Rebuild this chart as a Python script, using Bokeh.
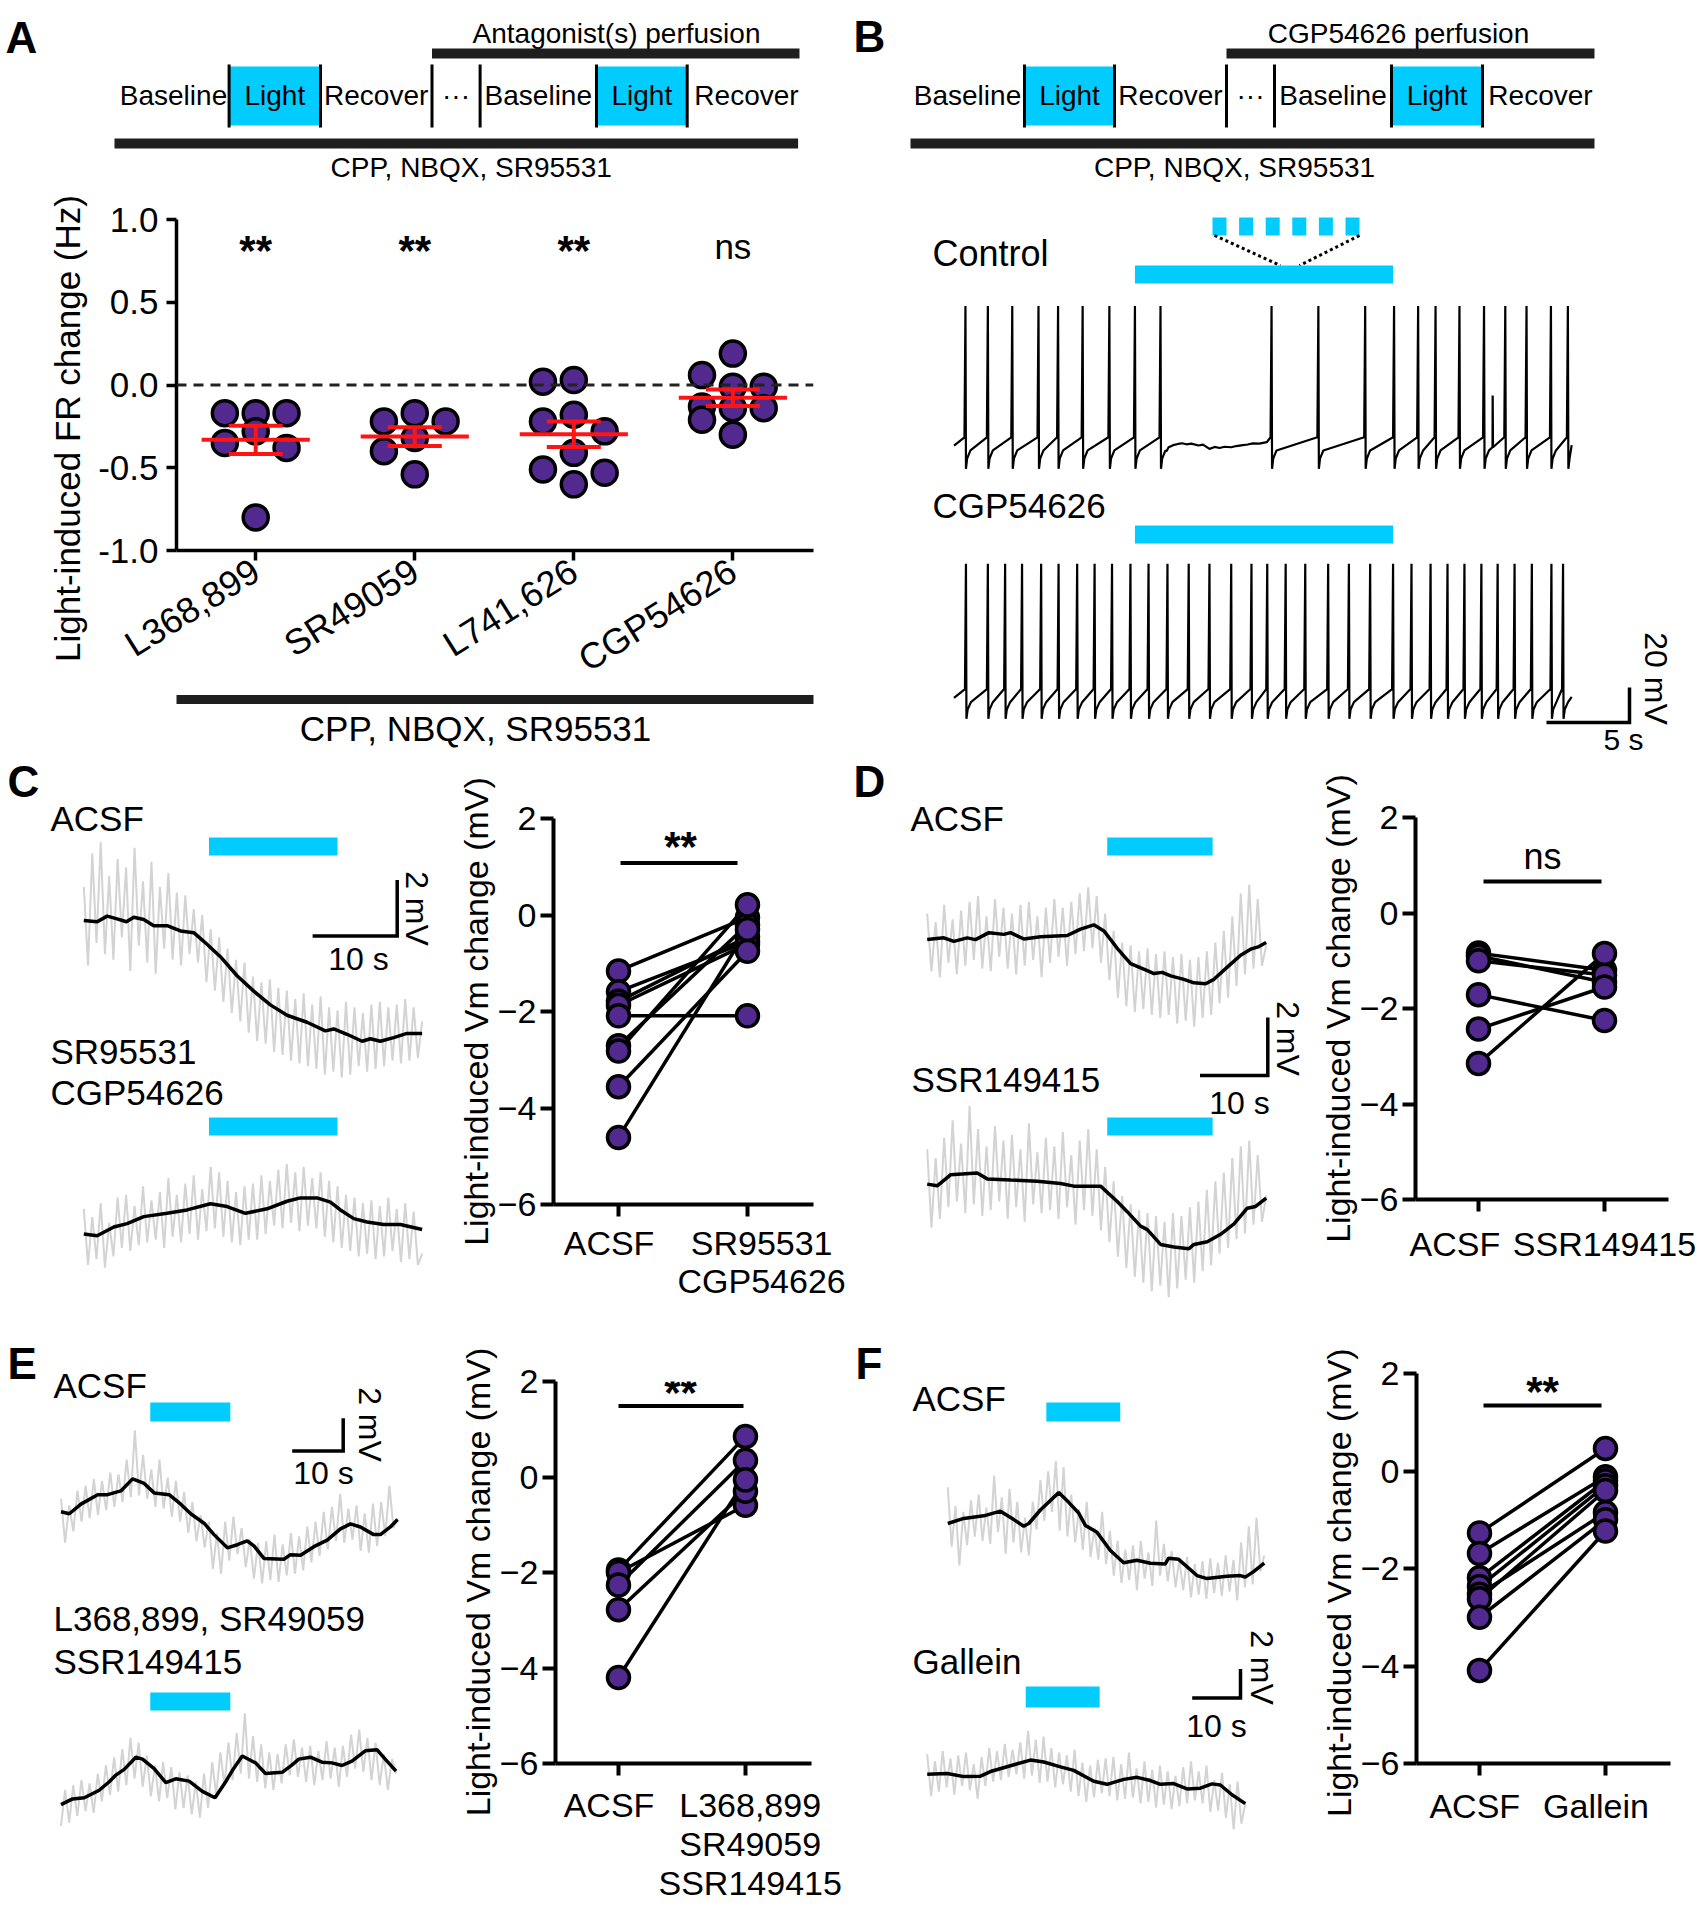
import numpy as np
from bokeh.plotting import figure
from bokeh.models import Range1d, FixedTicker, LinearAxis, Span, NumeralTickFormatter
from bokeh.layouts import column, row
from bokeh.core.properties import value
from bokeh.embed import file_html
from bokeh.resources import INLINE

FONT = "Liberation Sans"
PURPLE = "#52298f"
CYAN = "#00ccff"
GRAY = "#d3d3d3"
RED = "#ff1414"
BAR = "#1e1e1e"
NB = "\u00a0"

# ======================= DATA =======================
# Panel A: light-induced firing-rate change (Hz)
A_GROUPS = ["L368,899", "SR49059", "L741,626", "CGP54626"]
A_L368899 = [-0.17, -0.17, -0.17, -0.28, -0.35, -0.38, -0.80]
A_SR49059 = [-0.17, -0.22, -0.22, -0.32, -0.40, -0.54]
A_L741626 = [0.03, 0.02, -0.18, -0.22, -0.28, -0.41, -0.51, -0.53, -0.60]
A_CGP54626 = [0.19, 0.06, -0.01, -0.01, -0.13, -0.14, -0.14, -0.21, -0.30]
A_SIG = ["**", "**", "**", "ns"]
A_YTICKS = [-1.0, -0.5, 0.0, 0.5, 1.0]
A_YLABEL = "Light-induced FR change (Hz)"
BG_DRUGS = "CPP, NBQX, SR95531"
SCHEME = ["Baseline", "Light", "Recover", "\u00b7\u00b7\u00b7", "Baseline", "Light", "Recover"]

# Panel B: spike trains (s, mV)
B_LIGHT = (10.90, 26.45)
B_T_END = 37.21
B_CTL_SPIKES = [0.69, 2.04, 3.51, 5.09, 6.27, 7.75, 9.36, 10.90, 12.44, 19.13, 21.95,
                24.77, 26.51, 27.96, 29.01, 30.45, 31.93, 33.21, 34.49, 35.96, 36.98]
B_CTL_QUIET_T = [12.8, 12.93, 13.2, 13.5, 13.75, 14.0, 14.3, 14.73, 15.0, 15.39, 15.7,
                 16.0, 16.3, 16.7, 17.0, 17.3, 17.69, 18.0, 18.4, 18.84]
B_CTL_QUIET_V = [-55.0, -52.7, -51.5, -50.8, -50.4, -51.0, -50.6, -51.7, -51.2, -53.6, -52.5,
                 -53.1, -52.4, -52.7, -52.0, -51.6, -51.1, -50.5, -50.6, -49.8]
B_CTL_PARTIAL = (32.45, -23.1)
B_CGP_SPIKES = [0.72, 2.04, 3.08, 4.10, 5.25, 6.30, 7.42, 8.47, 9.52, 10.63, 11.72, 12.86,
                14.14, 15.39, 16.70, 17.92, 18.87, 19.98, 21.16, 22.54, 23.79, 25.07, 26.45,
                27.56, 28.71, 29.73, 30.75, 31.77, 32.75, 33.77, 34.81, 35.99, 36.69]

# Panel C
C_LIGHT = (14.8, 30.0)
C_ACSF_T = [0, 1.58, 2.76, 3.94, 5.04, 5.91, 7.09, 8.27, 9.85, 11.43, 13.0, 14.18, 16.15, 18.12,
            20.09, 22.06, 24.03, 26.39, 28.56, 29.55, 31.12, 32.9, 33.88, 35.06, 36.64, 38.21, 40]
C_ACSF_V = [0, -0.04, 0.16, 0.06, -0.04, 0.12, 0.04, -0.18, -0.18, -0.37, -0.43, -0.74, -1.29, -1.97,
            -2.52, -3.01, -3.38, -3.63, -3.94, -3.87, -4.06, -4.31, -4.22, -4.31, -4.18, -4.03, -4.03]
C_ACSF_RAW = [1.2, -1.6, 2.4, -0.8, 2.8, -1.2, 1.6, -1.4, 2.2, -0.6,
              1.9, -1.8, 2.6, -0.9, 1.4, -1.5, 2.1, -1.9, 1.2, -1.0,
              1.7, -1.4, 1.0, -1.6, 0.9, -1.2, 0.4, -1.5, 0.2, -2.2,
              -0.3, -2.5, -0.6, -2.9, -1.0, -3.3, -1.4, -3.6, -1.5, -4.0,
              -2.0, -4.3, -2.2, -4.4, -2.1, -4.7, -2.4, -4.8, -2.5, -5.0,
              -2.8, -5.1, -2.6, -5.2, -3.0, -5.3, -2.7, -5.5, -3.1, -5.4,
              -3.2, -5.6, -2.9, -5.5, -3.1, -5.2, -3.3, -5.4, -3.0, -5.3,
              -2.9, -5.2, -3.1, -5.0, -3.0, -5.1, -2.8, -5.0, -3.1, -4.9, -3.6]
C_DRUG_T = [0, 1.58, 3.55, 5.12, 7.09, 9.85, 12.21, 14.97, 16.94, 19.11, 21.67, 24.03, 25.61,
            27.58, 29.16, 30.34, 31.92, 33.49, 35.46, 37.43, 40]
C_DRUG_V = [0, -0.06, 0.25, 0.37, 0.62, 0.74, 0.86, 1.08, 0.98, 0.74, 0.90, 1.17, 1.29,
            1.29, 1.14, 0.86, 0.55, 0.43, 0.34, 0.34, 0.16]
C_DRUG_RAW = [0.9, -1.1, 0.6, -0.9, 1.1, -1.2, 0.4, -0.8, 1.3, -0.5,
              1.4, -0.6, 1.0, -0.4, 1.7, -0.3, 1.2, -0.2, 1.5, -0.5,
              2.0, -0.1, 1.4, -0.3, 1.8, 0.0, 2.1, -0.2, 1.6, 0.1,
              2.4, 0.2, 2.2, -0.1, 1.9, -0.3, 1.5, -0.4, 1.7, -0.2,
              1.8, -0.2, 2.1, 0.0, 1.9, 0.3, 2.3, 0.2, 2.5, 0.4,
              2.2, 0.1, 2.4, 0.3, 2.0, 0.2, 2.2, -0.1, 1.9, -0.3,
              1.7, -0.5, 1.4, -0.6, 1.3, -0.8, 1.1, -0.7, 1.2, -0.9,
              1.0, -0.8, 1.3, -0.6, 0.9, -1.0, 1.1, -0.9, 0.8, -1.1, -0.7]
C_PAIR_ACSF = [-1.16, -1.59, -1.79, -1.87, -2.09, -2.71, -2.82, -3.56, -4.61]
C_PAIR_DRUG = [-0.05, -0.55, -0.45, -0.60, -2.09, -0.20, 0.21, -0.75, -0.30]
C_XLABELS = ["ACSF", "SR95531\nCGP54626"]

# Panel D
D_LIGHT = (26.55, 42.1)
D_ACSF_T = [0, 2.46, 3.93, 5.9, 7.13, 9.1, 11.31, 12.29, 14.26, 16.72, 20.65, 22.62, 24.58, 26.06,
            28.03, 30.0, 32.46, 33.44, 34.67, 35.9, 37.87, 39.34, 41.06, 42.29, 44.26, 46.23, 47.7, 48.93, 50]
D_ACSF_V = [0, 0.06, -0.06, 0.06, 0, 0.24, 0.18, 0.24, 0.02, 0.1, 0.14, 0.36, 0.51, 0.3,
            -0.3, -0.83, -1.07, -1.17, -1.13, -1.25, -1.37, -1.49, -1.52, -1.37, -0.95, -0.54, -0.33, -0.24, -0.1]
D_ACSF_RAW = [0.9, -1.1, 0.6, -1.3, 1.2, -0.8, 0.7, -1.2, 1.0, -0.9,
              1.3, -0.7, 1.5, -1.0, 0.8, -1.1, 1.4, -0.6, 1.1, -1.0,
              0.9, -1.2, 1.2, -0.9, 1.3, -0.7, 0.8, -1.3, 1.1, -0.8,
              1.4, -0.6, 1.1, -0.9, 1.3, -0.5, 1.6, -0.4, 1.8, -0.3,
              1.5, -0.8, 0.9, -1.4, 0.3, -2.0, -0.1, -2.3, -0.2, -2.5,
              -0.4, -2.4, -0.3, -2.6, -0.5, -2.7, -0.4, -2.6, -0.6, -2.9,
              -0.5, -2.8, -0.7, -3.0, -0.6, -2.7, -0.4, -2.6, -0.1, -2.2,
              0.3, -2.0, 0.8, -1.6, 1.6, -1.2, 1.9, -1.0, 1.4, -0.9, -0.2]
D_DRUG_T = [0, 1.48, 3.44, 7.38, 8.85, 12.29, 16.23, 19.67, 21.63, 25.57, 28.03, 29.5, 31.47, 32.46,
            34.42, 36.39, 38.6, 39.34, 41.31, 43.28, 45.25, 47.21, 48.44, 50]
D_DRUG_V = [0, -0.06, 0.32, 0.38, 0.18, 0.14, 0.1, 0.02, -0.07, -0.07, -0.6, -0.95, -1.45, -1.57,
            -2.08, -2.17, -2.23, -2.08, -1.99, -1.73, -1.37, -0.83, -0.77, -0.48]
D_DRUG_RAW = [1.2, -1.5, 0.9, -1.2, 1.6, -0.8, 2.2, -0.6, 1.4, -1.0,
              2.7, -0.7, 1.9, -1.1, 1.3, -0.9, 2.0, -0.6, 1.5, -1.2,
              1.7, -0.8, 1.2, -1.3, 2.1, -0.7, 1.1, -1.0, 1.6, -0.9,
              1.3, -1.2, 1.8, -0.8, 1.0, -1.4, 1.5, -0.9, 1.9, -1.1,
              1.2, -1.6, 0.6, -2.0, 0.1, -2.5, -0.4, -2.9, -0.7, -3.2,
              -0.9, -3.4, -1.0, -3.7, -1.1, -3.5, -1.3, -3.9, -1.0, -3.6,
              -1.1, -3.3, -0.8, -3.4, -0.6, -3.0, -0.2, -2.8, 0.1, -2.4,
              0.4, -2.2, 0.9, -1.9, 1.3, -1.7, 1.5, -1.4, 1.0, -1.3, -0.4]
D_PAIR_ACSF = [-0.84, -0.90, -1.00, -1.71, -2.43, -3.15]
D_PAIR_DRUG = [-1.20, -1.45, -1.30, -2.25, -1.55, -0.85]
D_XLABELS = ["ACSF", "SSR149415"]

# Panel E
E_LIGHT = (17.5, 33.2)
E_ACSF_T = [0, 1.63, 3.91, 7.18, 9.13, 11.74, 14.03, 16.31, 18.27, 21.2, 23.48, 25.44, 28.05, 30.0,
            32.62, 34.57, 36.53, 37.83, 39.79, 43.7, 45.0, 46.97, 49.58, 52.19, 54.8, 56.75, 58.71,
            61.32, 62.62, 64.58, 66]
E_ACSF_V = [0, -0.12, 0.47, 1.05, 1.05, 1.28, 2.02, 1.74, 1.16, 1.05, 0.47, -0.12, -0.7, -1.4,
            -2.21, -2.02, -1.79, -2.09, -2.86, -2.91, -2.63, -2.67, -2.14, -1.74, -1.05, -0.74, -0.93,
            -1.4, -1.4, -0.93, -0.47]
E_ACSF_RAW = [0.8, -1.9, 0.4, -1.2, 1.3, -0.6, 1.6, -0.4, 2.0, -0.2,
              1.9, 0.1, 2.4, 0.3, 2.3, 0.6, 3.2, 0.9, 5.0, 1.0,
              3.5, 0.8, 2.6, 0.3, 3.2, 0.2, 2.1, -0.3, 1.9, -0.6,
              1.2, -1.3, 0.6, -1.8, -0.2, -2.2, -0.6, -3.5, -1.3, -3.8,
              -0.6, -3.0, -0.3, -2.6, -1.0, -3.4, -1.7, -4.1, -1.9, -4.4,
              -1.8, -4.2, -1.4, -4.3, -2.0, -3.9, -1.3, -3.8, -1.5, -3.6,
              -0.9, -3.1, -0.6, -2.7, 0.0, -2.3, 0.3, -1.8, 1.1, -1.9,
              0.2, -1.7, 0.4, -2.4, -0.1, -2.5, 0.5, -2.1, 0.6, -1.5, 1.6, -1.0, -0.4]
E_DRUG_T = [0, 2.28, 4.57, 7.5, 9.46, 10.76, 12.39, 14.68, 15.98, 18.26, 20.55, 22.5, 25.11, 27.72,
            30.2, 32.29, 33.59, 35.54, 38.15, 40.1, 43.36, 45.32, 46.62, 48.9, 51.17, 53.13, 55.09,
            57.05, 59.66, 61.94, 63.57, 65.69]
E_DRUG_V = [0, 0.35, 0.42, 0.88, 1.4, 1.81, 2.16, 2.91, 2.79, 2.21, 1.35, 1.58, 1.44, 0.81,
            0.42, 1.4, 2.09, 2.98, 2.56, 1.91, 1.98, 2.44, 2.79, 2.91, 2.6, 2.56, 2.4,
            2.67, 3.3, 3.37, 2.79, 2.05]
E_DRUG_RAW = [-1.3, 0.9, -1.1, 1.2, -0.7, 1.5, -0.4, 1.3, -0.5, 1.9,
              0.2, 2.4, 0.6, 2.9, 0.8, 3.4, 1.2, 4.1, 1.6, 3.8,
              1.1, 3.0, 0.5, 2.4, 0.2, 2.6, 0.4, 2.3, -0.3, 2.0,
              -0.2, 1.8, -0.6, 1.4, -0.8, 1.9, -0.2, 2.6, 0.6, 3.2,
              1.2, 3.8, 1.5, 4.4, 1.9, 5.6, 1.6, 4.2, 1.4, 3.7,
              1.0, 3.2, 0.9, 3.1, 1.3, 3.7, 1.8, 4.0, 1.7, 3.5,
              1.4, 3.6, 1.2, 3.3, 1.5, 3.9, 1.6, 3.5, 1.1, 3.6,
              1.7, 4.3, 2.2, 4.6, 2.0, 4.1, 1.5, 3.8, 1.2, 3.1, 0.9, 2.8, 1.9]
E_PAIR_ACSF = [-1.95, -2.00, -2.26, -2.78, -4.20]
E_PAIR_DRUG = [0.85, -0.59, 0.35, -0.30, -0.06]
E_XLABELS = ["ACSF", "L368,899\nSR49059\nSSR149415"]

# Panel F
F_LIGHT = (20.4, 35.7)
F_ACSF_T = [0, 3.31, 7.45, 10.9, 13.66, 15.72, 16.76, 19.17, 22.97, 25.03, 27.1, 28.48, 30.9, 33.66,
            36.41, 39.17, 41.93, 45.03, 45.72, 47.79, 51.59, 53.66, 57.79, 60.55, 61.59, 63.31, 65.52]
F_ACSF_V = [0, 0.35, 0.53, 0.85, 0.27, -0.19, 0, 0.93, 2.13, 1.46, 0.72, -0.13, -0.61, -1.86,
            -2.71, -2.53, -2.74, -2.79, -2.39, -2.47, -3.59, -3.8, -3.64, -3.59, -3.7, -3.32, -2.74]
F_ACSF_RAW = [2.5, -1.6, 1.2, -2.9, 0.8, -1.5, 1.6, -0.9, 2.0, -1.2,
              1.1, -1.4, 3.3, -0.6, 1.8, -2.1, 2.4, -1.3, 1.5, -2.0,
              0.4, -2.2, 1.5, -0.4, 3.0, 0.2, 3.6, 0.8, 4.3, -0.5,
              3.9, -0.9, 2.0, -1.3, 1.0, -1.8, 1.5, -2.3, -0.3, -2.5,
              0.8, -2.8, -0.5, -3.6, -1.2, -4.1, -1.8, -3.9, -1.5, -4.6,
              -1.2, -3.8, -2.0, -4.3, 0.2, -3.6, -1.4, -4.0, -1.9, -4.4,
              -2.5, -4.6, -2.3, -5.1, -2.8, -4.9, -2.6, -5.2, -2.4, -4.8,
              -2.7, -5.0, -2.2, -4.7, -2.5, -5.3, -1.3, -4.4, -0.2, -4.2, 0.4, -3.3, -2.2]
F_GAL_T = [0, 4.14, 7.59, 11.03, 13.1, 17.24, 21.38, 24.14, 27.59, 30.34, 34.48, 37.24, 40.69,
           43.45, 46.21, 48.28, 51.03, 53.79, 56.55, 58.97, 60.69, 63.1, 65.86]
F_GAL_V = [0, 0.05, -0.16, -0.13, 0.19, 0.59, 0.98, 0.85, 0.51, 0.27, -0.48, -0.69, -0.35,
           -0.21, -0.43, -0.69, -0.64, -1.01, -0.96, -0.66, -0.74, -1.41, -2.02]
F_GAL_RAW = [1.4, -1.5, 0.9, -1.2, 1.6, -0.9, 1.1, -1.4, 1.3, -0.8,
             1.5, -1.1, 0.7, -1.7, 1.2, -0.8, 1.8, -0.5, 1.6, -0.4,
             2.1, -0.2, 1.7, 0.0, 2.2, -0.3, 3.0, -0.1, 2.4, -0.6,
             2.6, -0.5, 1.8, -0.9, 1.5, -0.7, 1.3, -1.2, 1.7, -1.5,
             0.8, -1.9, 0.6, -1.6, 1.0, -1.3, 1.1, -1.5, 1.2, -1.8,
             0.7, -1.7, 1.5, -1.6, 0.4, -2.0, 0.9, -1.9, 0.3, -2.3,
             0.6, -2.1, 0.2, -2.4, -0.1, -2.2, 0.5, -2.0, 0.9, -1.8,
             0.2, -2.0, 0.6, -2.6, -0.4, -2.5, 0.1, -3.0, -0.7, -3.8, -0.5, -3.4, -2.0]
F_PAIR_ACSF = [-1.27, -1.69, -2.19, -2.37, -2.53, -2.62, -3.00, -4.09]
F_PAIR_GAL = [0.46, -0.12, -0.20, -0.30, -0.85, -0.40, -1.00, -1.23]
F_XLABELS = ["ACSF", "Gallein"]

VM_LABEL = "Light-induced Vm change (mV)"
VM_TICKS = [-6, -4, -2, 0, 2]


# ======================= HELPERS =======================
def clean(p):
    p.grid.visible = False
    p.outline_line_color = None
    if p.title is not None:
        p.title.visible = False
    try:
        p.frame_align = False
    except Exception:
        pass


def px_ranges(p, box):
    x0, y0, x1, y1 = box
    p.extra_x_ranges = {"px": Range1d(x0, x1)}
    p.extra_y_ranges = {"px": Range1d(y1, y0)}


def plain_fig(box, xr, yr):
    x0, y0, x1, y1 = box
    p = figure(width=int(x1 - x0), height=int(y1 - y0), x_range=Range1d(*xr), y_range=Range1d(*yr),
               x_axis_location=None, y_axis_location=None, min_border=0,
               output_backend="svg", toolbar_location=None)
    clean(p)
    px_ranges(p, box)
    return p


def canvas(box):
    x0, y0, x1, y1 = box
    return plain_fig(box, (x0, x1), (y1, y0))


def trace_fig(box, m):
    t0, pps, v0, ppm = m
    x0, y0, x1, y1 = box
    return plain_fig(box, ((x0 - t0) / pps, (x1 - t0) / pps), ((v0 - y1) / ppm, (v0 - y0) / ppm))


def T(p, x, y, s, size, align="left", base="middle", bold=False, angle=0.0, xr="px", yr="px"):
    p.text(x=[x], y=[y], text=[s], x_range_name=xr, y_range_name=yr, text_font=value(FONT),
           text_font_size=f"{size}px", text_align=align, text_baseline=base,
           text_font_style="bold" if bold else "normal", angle=angle, text_color="black")


def S(p, x0, y0, x1, y1, w, color="black", dash="solid", xr="px", yr="px"):
    p.segment(x0=[x0], y0=[y0], x1=[x1], y1=[y1], line_width=w, line_color=color,
              line_dash=dash, x_range_name=xr, y_range_name=yr)


def R(p, l, r, t, b, color, xr="px", yr="px"):
    p.quad(left=[l], right=[r], top=[t], bottom=[b], fill_color=color, line_color=None,
           x_range_name=xr, y_range_name=yr)


def scalebar(p, m, corner, t_len, v_len, lw=3.5):
    t0, pps, v0, ppm = m
    tc = (corner[0] - t0) / pps
    vc = (v0 - corner[1]) / ppm
    p.line([tc - t_len, tc, tc], [vc, vc, vc + v_len], line_color="black", line_width=lw,
           line_join="miter")


def noisy_trace(p, bt, bv, raw, xoff=0.0, yoff=0.0):
    tg = np.linspace(bt[0], bt[-1], len(raw))
    p.line(tg + xoff, np.array(raw) + yoff, line_color=GRAY, line_width=2)
    p.line(np.array(bt) + xoff, np.array(bv) + yoff, line_color="black", line_width=3.5)


def spike_trace(spikes, t_end, v_start, ahp, rec, thr, peak, quiet_t=(), quiet_v=()):
    Ts, Vs = [0.0], [v_start]
    for i, ts in enumerate(spikes):
        nxt = spikes[i + 1] if i + 1 < len(spikes) else t_end + 10
        Ts += [ts - 0.06, ts, ts + 0.03, ts + 0.10, ts + 0.30]
        Vs += [thr, peak, ahp, ahp + 0.55 * (rec - ahp), rec]
        for qt, qv in zip(quiet_t, quiet_v):
            if ts + 0.3 < qt < nxt - 0.06:
                Ts.append(qt)
                Vs.append(qv)
    Ts = np.array(Ts)
    Vs = np.array(Vs)
    keep = Ts < t_end
    return np.append(Ts[keep], t_end), np.append(Vs[keep], rec + 0.4 * (thr - rec))


def swarm(vals, xpu, ypu, d):
    order = sorted(range(len(vals)), key=lambda i: -vals[i])
    placed, offs = [], [0.0] * len(vals)
    for i in order:
        y = vals[i] * ypu
        cands = []
        for k, lane in enumerate((0, -1, 1)):
            clr = min([float(np.hypot((lane - l) * d, y - yy)) for l, yy in placed] + [1e9])
            cands.append((clr, -k, lane))
        ok = [c for c in cands if c[0] >= 0.98 * d]
        lane = ok[0][2] if ok else max(cands)[2]
        placed.append((lane, y))
        offs[i] = lane * d / xpu
    return offs


def style_axes(p, lw, tick, tick_size, label_size, standoff):
    for ax in p.axis:
        ax.axis_line_width = lw
        ax.axis_line_color = "black"
        ax.major_tick_line_width = lw
        ax.major_tick_line_color = "black"
        ax.major_tick_out = tick
        ax.major_tick_in = 0
        ax.minor_tick_line_color = None
        ax.major_label_text_font = FONT
        ax.major_label_text_font_size = f"{tick_size}px"
        ax.major_label_text_color = "black"
        ax.major_label_standoff = standoff
        ax.axis_label_text_font = FONT
        ax.axis_label_text_font_size = f"{label_size}px"
        ax.axis_label_text_font_style = "normal"
        ax.axis_label_text_color = "black"


def schematic(p, letter, letter_xy, header, header_c, top_bar, divs, centers, bottom_bar, footer_c):
    T(p, letter_xy[0], letter_xy[1], letter, 44, bold=True)
    T(p, header_c, 33, header, 28, align="center")
    R(p, top_bar[0], top_bar[1], 48, 58, BAR)
    R(p, divs[0], divs[1], 66, 125, CYAN)
    R(p, divs[4], divs[5], 66, 125, CYAN)
    for xd in divs:
        S(p, xd, 64, xd, 127, 3)
    for lab, cx in zip(SCHEME, centers):
        T(p, cx, 95, lab, 28, align="center")
    R(p, bottom_bar[0], bottom_bar[1], 138, 148, BAR)
    T(p, footer_c, 167, BG_DRUGS, 28, align="center")


def paired_fig(box, frame, xr, a, b, xlabels, sig, sig_line, sig_pos, sig_size, pad, lh=1.0, lstand=8):
    x0, y0, x1, y1 = box
    fx0, fy0, fx1, fy1 = frame
    p = figure(width=int(x1 - x0), height=int(y1 - y0), x_range=Range1d(*xr), y_range=Range1d(-6, 2),
               min_border_left=int(fx0 - x0), min_border_right=int(x1 - fx1),
               min_border_top=int(fy0 - y0), min_border_bottom=int(y1 - fy1),
               output_backend="svg", toolbar_location=None)
    clean(p)
    px_ranges(p, frame)
    style_axes(p, 4, 12, 34, 34, lstand)
    p.yaxis.major_tick_out = 13
    p.yaxis.major_label_standoff = 4
    p.yaxis.ticker = FixedTicker(ticks=VM_TICKS)
    p.yaxis.axis_label = VM_LABEL + NB * pad
    p.yaxis.axis_label_standoff = 0
    p.xaxis.ticker = FixedTicker(ticks=[1, 2])
    p.xaxis.major_label_overrides = {1: xlabels[0], 2: xlabels[1]}
    p.xaxis.major_label_text_line_height = lh
    p.multi_line([[1, 2] for _ in a], [[u, v] for u, v in zip(a, b)], line_color="black", line_width=3.5)
    p.scatter([1] * len(a), a, size=22, fill_color=PURPLE, line_color="black", line_width=3.5)
    p.scatter([2] * len(b), b, size=22, fill_color=PURPLE, line_color="black", line_width=3.5)
    S(p, sig_line[0], sig_line[2], sig_line[1], sig_line[2], 4)
    T(p, sig_pos[0], sig_pos[1], sig, sig_size, align="center", base="alphabetic", bold=(sig == "**"))
    return p


def shift_label(s, lead=0, trail=0):
    return "\n".join(NB * lead + part + NB * trail for part in s.split("\n"))


# page geometry (page pixels; Bokeh's page has no body margin)
PAGE_W = 1700
PAGE_H = 1904
ROW1 = 758
ROW2 = 1310
SPLIT = 852

# ======================= PANEL A =======================
pAt = canvas((0, 0, SPLIT, 185))
schematic(pAt, "A", (5, 37), "Antagonist(s) perfusion", 616, (431.5, 799),
          [228.6, 320, 431.5, 479.6, 596, 686.7], [173, 274.3, 375.7, 455.5, 537.8, 641.3, 746],
          (114, 797.6), 470.7)

pAl = canvas((0, 185, 95, ROW1))
T(pAl, 67, 428, A_YLABEL, 35, align="center", angle=np.pi / 2)

A_FRAME = (173, 219, 813, 550)
pA = figure(width=SPLIT - 95, height=ROW1 - 185, x_range=Range1d(0.502, 4.507), y_range=Range1d(-1, 1),
            min_border_left=173 - 95, min_border_right=SPLIT - 813, min_border_top=219 - 185,
            min_border_bottom=ROW1 - 550, output_backend="svg", toolbar_location=None)
clean(pA)
px_ranges(pA, A_FRAME)
style_axes(pA, 3.5, 10, 35, 35, 8)
pA.xaxis.major_label_text_font_size = "36px"
pA.xaxis.major_label_standoff = 7
pA.xaxis.ticker = FixedTicker(ticks=[1, 2, 3, 4])
pA.xaxis.major_label_overrides = {i + 1: g for i, g in enumerate(A_GROUPS)}
pA.xaxis.major_label_orientation = 0.56
pA.yaxis.ticker = FixedTicker(ticks=A_YTICKS)
pA.yaxis.formatter = NumeralTickFormatter(format="0.0")
pA.add_layout(Span(location=0, dimension="width", line_color="#222222", line_width=3, line_dash="10 7"))

ax2 = LinearAxis(ticker=FixedTicker(ticks=[]), axis_label=shift_label(BG_DRUGS, trail=4), axis_line_width=9,
                 axis_line_color=BAR, major_tick_line_color=None, minor_tick_line_color=None,
                 major_label_text_font_size="0px", major_label_standoff=0,
                 axis_label_text_font=FONT, axis_label_text_font_size="35px",
                 axis_label_text_font_style="normal", axis_label_text_color="black",
                 axis_label_standoff=9)
pA.add_layout(ax2, "below")

A_YPU = (550 - 219) / 2.0
A_XPU = (813 - 173) / (4.507 - 0.502)
for gi, vals in enumerate([A_L368899, A_SR49059, A_L741626, A_CGP54626]):
    cx = gi + 1
    offs = swarm(vals, A_XPU, A_YPU, 31)
    pA.scatter([cx + o for o in offs], vals, size=25, fill_color=PURPLE, line_color="black", line_width=3.5)
    m = float(np.mean(vals))
    s = float(np.std(vals, ddof=1) / np.sqrt(len(vals)))
    pA.segment(x0=[cx - 0.34, cx - 0.17, cx - 0.17, cx], y0=[m, m + s, m - s, m - s],
               x1=[cx + 0.34, cx + 0.17, cx + 0.17, cx], y1=[m, m + s, m - s, m + s],
               line_color=RED, line_width=4)
    if A_SIG[gi] == "**":
        T(pA, cx, 250, A_SIG[gi], 42, align="center", base="alphabetic", bold=True, xr="default")
    else:
        T(pA, cx, 246, A_SIG[gi], 35, align="center", base="alphabetic", xr="default")

# ======================= PANEL B =======================
pBt = canvas((SPLIT, 0, PAGE_W, 185))
schematic(pBt, "B", (853, 36), "CGP54626 perfusion", 1398, (1226, 1594),
          [1024, 1114, 1226, 1274, 1391, 1482], [967, 1069, 1170, 1250, 1332.5, 1436.5, 1540],
          (910, 1594), 1234)

MB_CTL = (953.5, 16.6, 354.55, 1.75)
pBc = trace_fig((SPLIT, 185, PAGE_W, 480), MB_CTL)
T(pBc, 932, 253, "Control", 36)
for k in range(6):
    R(pBc, 1212 + 26.6 * k, 1226 + 26.6 * k, 217, 235, CYAN)
S(pBc, 1214, 235, 1280, 265, 3, dash="3 3")
S(pBc, 1359, 235, 1299, 265, 3, dash="3 3")
R(pBc, B_LIGHT[0], B_LIGHT[1], 265, 283, CYAN, xr="default")
tc, vc = spike_trace(B_CTL_SPIKES, B_T_END, -51.7, -65.0, -54.5, -47.0, 28.0, B_CTL_QUIET_T, B_CTL_QUIET_V)
vb = float(np.interp(B_CTL_PARTIAL[0], tc, vc))
ip = int(np.searchsorted(tc, B_CTL_PARTIAL[0]))
tc = np.insert(tc, ip, [B_CTL_PARTIAL[0] - 0.01, B_CTL_PARTIAL[0], B_CTL_PARTIAL[0] + 0.02])
vc = np.insert(vc, ip, [vb, B_CTL_PARTIAL[1], vb])
pBc.line(tc, vc, line_color="black", line_width=2.2)

MB_CGP = (953.5, 16.6, 604.55, 1.75)
pBg = trace_fig((SPLIT, 480, PAGE_W, ROW1), MB_CGP)
T(pBg, 932, 505, "CGP54626", 35)
R(pBg, B_LIGHT[0], B_LIGHT[1], 525, 543, CYAN, xr="default")
tg, vg = spike_trace(B_CGP_SPIKES, B_T_END, -53.0, -65.0, -55.5, -48.0, 23.6)
pBg.line(tg, vg, line_color="black", line_width=2.2)
scalebar(pBg, MB_CGP, (1629, 722), 5, 20)
T(pBg, 1655, 678, "20 mV", 32, align="center", angle=-np.pi / 2)
T(pBg, 1623, 739, "5 s", 30, align="center")

# ======================= PANEL C =======================
MC = (83.3, 8.458, 920.1, 28.0)
pCt = trace_fig((0, ROW1, 440, ROW2), MC)
T(pCt, 7, 781, "C", 44, bold=True)
T(pCt, 50, 818, "ACSF", 35)
R(pCt, C_LIGHT[0], C_LIGHT[1], 837, 855, CYAN, xr="default")
noisy_trace(pCt, C_ACSF_T, C_ACSF_V, C_ACSF_RAW)
scalebar(pCt, MC, (396.7, 935.6), 10, 2)
T(pCt, 416, 908, "2 mV", 32, align="center", angle=-np.pi / 2)
T(pCt, 358, 958, "10 s", 32, align="center")
T(pCt, 50, 1051, "SR95531", 35)
T(pCt, 50, 1092, "CGP54626", 35)
R(pCt, C_LIGHT[0], C_LIGHT[1], 1117, 1135, CYAN, xr="default")
noisy_trace(pCt, C_DRUG_T, C_DRUG_V, C_DRUG_RAW, yoff=(920.1 - 1233.5) / 28.0)

pCs = paired_fig((440, ROW1, SPLIT, ROW2), (553, 818, 813, 1204), (0.496, 2.512), C_PAIR_ACSF, C_PAIR_DRUG,
                 [shift_label(C_XLABELS[0], trail=2), shift_label(C_XLABELS[1], lead=3)],
                 "**", (620, 737, 862.6), (680, 846), 42, 0, lh=1.0, lstand=7)

# ======================= PANEL D =======================
MD = (926.7, 6.78, 939.1, 29.0)
pDt = trace_fig((SPLIT, ROW1, 1306, ROW2), MD)
T(pDt, 853, 781, "D", 44, bold=True)
T(pDt, 910, 818, "ACSF", 35)
R(pDt, D_LIGHT[0], D_LIGHT[1], 837, 855, CYAN, xr="default")
noisy_trace(pDt, D_ACSF_T, D_ACSF_V, D_ACSF_RAW)
scalebar(pDt, MD, (1267.3, 1075), 10, 2)
T(pDt, 1287.5, 1038, "2 mV", 32, align="center", angle=-np.pi / 2)
T(pDt, 1239, 1102, "10 s", 32, align="center")
T(pDt, 911, 1078.5, "SSR149415", 35)
R(pDt, D_LIGHT[0], D_LIGHT[1], 1117, 1135, CYAN, xr="default")
noisy_trace(pDt, D_DRUG_T, D_DRUG_V, D_DRUG_RAW, yoff=(939.1 - 1183.6) / 29.0)

pDs = paired_fig((1306, ROW1, PAGE_W, ROW2), (1415, 817, 1668, 1199), (0.5, 2.508), D_PAIR_ACSF, D_PAIR_DRUG,
                 [shift_label(D_XLABELS[0], trail=5), D_XLABELS[1]],
                 "ns", (1483, 1601, 881), (1542, 856), 36, 0, lstand=13)

# ======================= PANEL E =======================
ME = (60.5, 5.1, 1511.3, 16.3)
pEt = trace_fig((0, ROW2, 440, PAGE_H), ME)
T(pEt, 7, 1363, "E", 44, bold=True)
T(pEt, 53, 1385, "ACSF", 35)
R(pEt, E_LIGHT[0], E_LIGHT[1], 1402, 1421, CYAN, xr="default")
noisy_trace(pEt, E_ACSF_T, E_ACSF_V, E_ACSF_RAW)
scalebar(pEt, ME, (342.7, 1450.4), 10, 2)
T(pEt, 369, 1424, "2 mV", 32, align="center", angle=-np.pi / 2)
T(pEt, 323, 1472, "10 s", 32, align="center")
T(pEt, 53, 1618, "L368,899, SR49059", 35)
T(pEt, 53, 1660.5, "SSR149415", 35)
R(pEt, E_LIGHT[0], E_LIGHT[1], 1692, 1710, CYAN, xr="default")
noisy_trace(pEt, E_DRUG_T, E_DRUG_V, E_DRUG_RAW, yoff=(1511.3 - 1804.1) / 16.3)

pEs = paired_fig((440, ROW2, SPLIT, PAGE_H), (555, 1381, 811, 1763), (0.504, 2.52), E_PAIR_ACSF, E_PAIR_DRUG,
                 [shift_label(E_XLABELS[0], trail=2), shift_label(E_XLABELS[1], lead=1)],
                 "**", (618, 743, 1405.5), (680, 1392), 42, 2, lh=1.03, lstand=10)

# ======================= PANEL F =======================
MF = (947.3, 4.83, 1523.0, 14.5)
pFt = trace_fig((SPLIT, ROW2, 1306, PAGE_H), MF)
T(pFt, 855, 1363, "F", 44, bold=True)
T(pFt, 912, 1398, "ACSF", 35)
R(pFt, F_LIGHT[0], F_LIGHT[1], 1402, 1421, CYAN, xr="default")
noisy_trace(pFt, F_ACSF_T, F_ACSF_V, F_ACSF_RAW)
GAL_XOFF = (926.7 - 947.3) / 4.83
T(pFt, 912, 1660.5, "Gallein", 35)
R(pFt, F_LIGHT[0] + GAL_XOFF, F_LIGHT[1] + GAL_XOFF, 1686, 1707, CYAN, xr="default")
noisy_trace(pFt, F_GAL_T, F_GAL_V, F_GAL_RAW, xoff=GAL_XOFF, yoff=(1523.0 - 1773.8) / 14.5)
scalebar(pFt, MF, (1240, 1697.4), 10, 2)
T(pFt, 1261.5, 1667, "2 mV", 32, align="center", angle=-np.pi / 2)
T(pFt, 1216, 1725.5, "10 s", 32, align="center")

pFs = paired_fig((1306, ROW2, PAGE_W, PAGE_H), (1416, 1373, 1670, 1763), (0.5, 2.516), F_PAIR_ACSF, F_PAIR_GAL,
                 [shift_label(F_XLABELS[0], trail=1), shift_label(F_XLABELS[1], trail=2)],
                 "**", (1483, 1601, 1405), (1542, 1391), 42, 3, lstand=11)

# ======================= LAYOUT =======================
top = row(column(pAt, row(pAl, pA)), column(pBt, pBc, pBg))
mid = row(pCt, pCs, pDt, pDs)
bot = row(pEt, pEs, pFt, pFs)
page = column(top, mid, bot)

open("out.html", "w").write(file_html(page, INLINE, title="Figure"))
